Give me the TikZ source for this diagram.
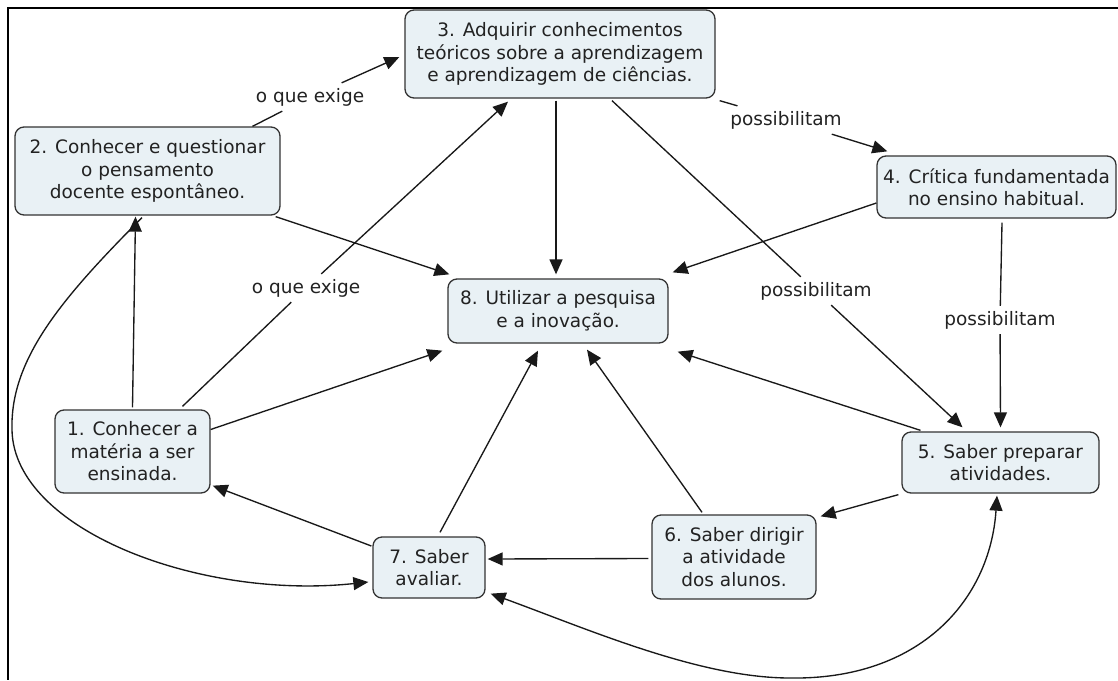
\documentclass[tikz,border=0pt]{standalone}
\usepackage{fontspec}
\setmainfont{DejaVu Sans}
\usetikzlibrary{arrows.meta}
\definecolor{boxfill}{HTML}{E9F1F5}
\definecolor{boxline}{HTML}{333333}
\definecolor{inktext}{HTML}{222222}
\begin{document}
\begin{tikzpicture}[x=1pt,y=-1pt,
  concept/.style={draw=boxline, line width=1.3pt, fill=boxfill, rounded corners=9pt,
    align=center, inner sep=0pt, text=inktext, font=\fontsize{18.5}{22.5}\selectfont},
  phrase/.style={inner sep=5pt, text=inktext, font=\fontsize{18.5}{22.5}\selectfont},
  link/.style={line width=1.35pt, draw=black!90},
  tip/.tip={Triangle[length=15pt,width=13pt]},
  arrowlink/.style={link, -tip},
]
\useasboundingbox (0,0) rectangle (1118,680);
% frame along the top and the left side
\draw[line width=2.5pt] (1118,8) -- (8,8) -- (8,680);

% concepts
\node[concept, minimum width=310pt, minimum height=88pt] (n3) at (560,54)
  {3. Adquirir conhecimentos\\teóricos sobre a aprendizagem\\e aprendizagem de ciências.};
\node[concept, minimum width=265pt, minimum height=88pt] (n2) at (147.5,171)
  {2. Conhecer e questionar\\o pensamento\\docente espontâneo.};
\node[concept, minimum width=239pt, minimum height=62pt] (n4) at (996.5,187)
  {4. Crítica fundamentada\\no ensino habitual.};
\node[concept, minimum width=220pt, minimum height=64pt] (n8) at (558,311)
  {8. Utilizar a pesquisa\\e a inovação.};
\node[concept, minimum width=155pt, minimum height=83pt] (n1) at (132.5,451.5)
  {1. Conhecer a\\matéria a ser\\ensinada.};
\node[concept, minimum width=112pt, minimum height=61pt] (n7) at (429,567.5)
  {7. Saber\\avaliar.};
\node[concept, minimum width=197pt, minimum height=61pt] (n5) at (1000.5,462.5)
  {5. Saber preparar\\atividades.};
\node[concept, minimum width=164pt, minimum height=84pt] (n6) at (734,557)
  {6. Saber dirigir\\a atividade\\dos alunos.};

% linking phrases
\node[phrase] (l1) at (310,97) {o que exige};
\node[phrase] (l2) at (306,288) {o que exige};
\node[phrase] (l3) at (786,120) {possibilitam};
\node[phrase] (l4) at (816,291) {possibilitam};
\node[phrase] (l5) at (1000,320) {possibilitam};

% labelled links
\draw[link] ([shift={(105,0)}]n2.north) -- (l1);
\draw[arrowlink] (l1) -- ([shift={(-5,3)}]n3.west);
\draw[link] ([shift={(50,-3)}]n1.north) -- (l2);
\draw[arrowlink] (l2) -- ([shift={(-52,3)}]n3.south);
\draw[link] ([shift={(4,2)}]n3.south east) -- (l3);
\draw[arrowlink] (l3) -- ([shift={(11,-4)}]n4.north west);
\draw[link] ([shift={(52,2)}]n3.south) -- (l4);
\draw[arrowlink] (l4) -- ([shift={(-38,-4)}]n5.north);
\draw[link] ([shift={(5.5,4)}]n4.south) -- (l5);
\draw[arrowlink] (l5) -- ([shift={(0,-4)}]n5.north);

% plain links
\draw[arrowlink] ([shift={(-4,2)}]n3.south) -- ([shift={(-2,-4)}]n8.north);
\draw[arrowlink] ([shift={(-5,1)}]n2.south east) -- ([shift={(2,-4)}]n8.north west);
\draw[arrowlink] ([shift={(0,16)}]n4.west) -- ([shift={(4,-6)}]n8.north east);
\draw[arrowlink] ([shift={(0,-2)}]n1.north) -- ([shift={(-12,1)}]n2.south);
\draw[arrowlink] ([shift={(0,-22)}]n1.east) -- ([shift={(-5,7)}]n8.south west);
\draw[arrowlink] ([shift={(11,-4)}]n7.north) -- ([shift={(-20,7)}]n8.south);
\draw[arrowlink] ([shift={(-32,-2)}]n6.north) -- ([shift={(29,6)}]n8.south);
\draw[arrowlink] ([shift={(-80,-1)}]n5.north) -- ([shift={(9,8)}]n8.south east);
\draw[arrowlink] ([shift={(-3,1)}]n5.south west) -- ([shift={(4,2)}]n6.north east);
\draw[arrowlink] ([shift={(-3,1.5)}]n6.west) -- ([shift={(2,-8.5)}]n7.east);
\draw[arrowlink] ([shift={(-1,-21.5)}]n7.west) -- ([shift={(2,-8)}]n1.south east);

% curved links
\draw[arrowlink] ([shift={(-5.5,2)}]n2.south)
  .. controls (60,300) and (10,360) .. (12,430)
  .. controls (14,530) and (200,600) .. ([shift={(-4,14.5)}]n7.west);
\draw[link, tip-tip] ([shift={(-3.5,2)}]n5.south)
  .. controls (990,600) and (920,680) .. (790,678)
  .. controls (700,678) and (590,630) .. ([shift={(5,-5)}]n7.south east);
\end{tikzpicture}
\end{document}
